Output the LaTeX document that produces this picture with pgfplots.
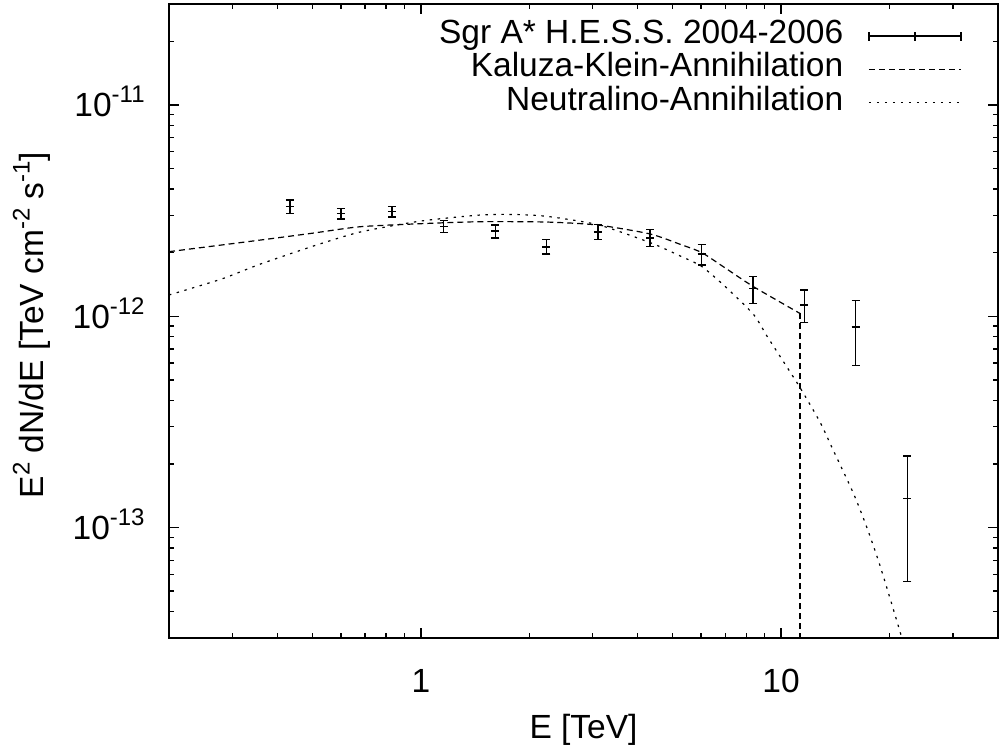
\documentclass[border=0pt]{standalone}
\usepackage{fontspec}
\setmainfont{Liberation Sans}
\usepackage{pgfplots}
\pgfplotsset{compat=1.18}
\newcommand{\chartfont}{\fontsize{16.75}{20}\selectfont}
\newcommand{\sups}[1]{\raisebox{0.42em}{\fontsize{12}{14}\selectfont #1}}

% H.E.S.S. Sgr A* spectrum 2004-2006: E, flux, upper and lower error
\pgfplotstableread{
E      F         up        dn
0.433  3.30e-12  0.25e-12  0.23e-12
0.600  3.07e-12  0.17e-12  0.19e-12
0.831  3.12e-12  0.18e-12  0.17e-12
1.158  2.66e-12  0.18e-12  0.17e-12
1.61   2.53e-12  0.17e-12  0.19e-12
2.23   2.13e-12  0.17e-12  0.16e-12
3.10   2.50e-12  0.21e-12  0.20e-12
4.33   2.34e-12  0.23e-12  0.20e-12
6.02   1.97e-12  0.22e-12  0.22e-12
8.36   1.35e-12  0.19e-12  0.20e-12
11.6   1.13e-12  0.20e-12  0.197e-12
16.1   0.889e-12 0.30e-12  0.303e-12
22.4   0.137e-12 0.081e-12 0.0815e-12
}\hessdata

% Kaluza-Klein annihilation spectrum
\pgfplotstableread{
E     F
0.2   2.02e-12
0.357 2.29e-12
0.5   2.47e-12
0.677 2.65e-12
1.0   2.74e-12
1.458 2.80e-12
2.23  2.79e-12
3.10  2.70e-12
4.33  2.45e-12
5.24  2.19e-12
6.02  2.00e-12
7.0   1.69e-12
8.38  1.38e-12
11.29 1.03e-12
}\kkdata

% Neutralino annihilation spectrum
\pgfplotstableread{
E     F
0.2   1.26e-12
0.28  1.50e-12
0.357 1.76e-12
0.5   2.14e-12
0.677 2.50e-12
1.0   2.82e-12
1.458 3.01e-12
1.8   3.03e-12
2.23  2.97e-12
3.10  2.71e-12
4.33  2.23e-12
5.24  1.93e-12
6.02  1.72e-12
7.0   1.38e-12
8.38  1.02e-12
9.13  0.807e-12
10.0  0.634e-12
11.29 0.459e-12
12.83 0.315e-12
13.83 0.240e-12
15.88 0.145e-12
17.3  0.100e-12
18.84 0.0656e-12
21.64 0.030e-12
23.0  0.020e-12
}\neudata

\begin{document}
\begin{tikzpicture}
\path[use as bounding box] (0,0) rectangle (499.5pt,-373.5pt);
\begin{axis}[
  at={(84.5pt,-2pt)}, anchor=north west,
  scale only axis, width=414.5pt, height=317pt,
  xmode=log, ymode=log,
  xmin=0.2, xmax=40, ymin=3e-14, ymax=3e-11,
  xtick={1,10}, xticklabels={1,10},
  minor xtick={0.2,0.3,0.4,0.5,0.6,0.7,0.8,0.9,2,3,4,5,6,7,8,9,20,30,40},
  ytick={1e-13,1e-12,1e-11},
  yticklabels={10\sups{-13},10\sups{-12},10\sups{-11}},
  minor ytick={3e-14,4e-14,5e-14,6e-14,7e-14,8e-14,9e-14,
               2e-13,3e-13,4e-13,5e-13,6e-13,7e-13,8e-13,9e-13,
               2e-12,3e-12,4e-12,5e-12,6e-12,7e-12,8e-12,9e-12,
               2e-11,3e-11},
  tick align=inside,
  major tick length=5pt, minor tick length=2.5pt,
  every tick/.style={black, line width=0.7pt},
  axis line style={line width=0.9pt},
  xticklabel style={font=\chartfont, anchor=base, inner sep=0pt, yshift=-27pt},
  yticklabel style={font=\chartfont, anchor=base east, inner sep=0pt, xshift=-12pt, yshift=-6pt},
  xlabel={E [TeV]},
  ylabel={E\sups{2} dN/dE [TeV cm\sups{-2} s\sups{-1}]},
  xlabel style={font=\chartfont, at={(axis description cs:0.5,0)}, anchor=base, inner sep=0pt, yshift=-50pt},
  ylabel style={font=\chartfont, at={(axis description cs:-0.1656,0.4937)}, anchor=center, inner sep=0pt},
  legend plot pos=right,
  legend cell align=right,
  legend style={font=\chartfont, draw=none, fill=none,
    at={(axis description cs:0.9566,0.9763)}, anchor=north east,
    inner sep=0pt, row sep=0pt, column sep=12.5pt,
    nodes={inner sep=0pt, text height=12pt, text depth=4.65pt}},
]
\addplot[black, line width=0.7pt, only marks, mark=+, mark size=2pt,
  error bars/.cd, y dir=both, y explicit,
  error mark=-,
  error bar style={line width=0.7pt},
  error mark options={rotate=90, mark size=2pt, line width=0.7pt},
  /pgfplots/legend image code/.code={
    \draw[black, line width=0.7pt] (0pt,0pt) -- (46pt,0pt);
    \draw[black, line width=0.7pt] (0pt,-2.2pt) -- (0pt,2.2pt)
      (46pt,-2.2pt) -- (46pt,2.2pt) (23pt,-2.2pt) -- (23pt,2.2pt);
  }]
  table[x=E, y=F, y error plus=up, y error minus=dn] {\hessdata};
\addlegendentry{Sgr A* H.E.S.S. 2004-2006}

\addplot[black, line width=0.6pt, dash pattern=on 3pt off 2pt, smooth, tension=0.4,
  legend image code/.code={\draw[black, line width=0.6pt, dash pattern=on 3pt off 2pt] (0pt,0pt) -- (46pt,0pt);}]
  table[x=E, y=F] {\kkdata};
\addlegendentry{Kaluza-Klein-Annihilation}

\addplot[black, line width=0.6pt, dash pattern=on 1.2pt off 2.8pt, smooth, tension=0.4,
  legend image code/.code={\draw[black, line width=0.6pt, dash pattern=on 1.2pt off 2.8pt] (0pt,0pt) -- (46pt,0pt);}]
  table[x=E, y=F] {\neudata};
\addlegendentry{Neutralino-Annihilation}

% cut-off of the Kaluza-Klein spectrum
\addplot[black, line width=0.6pt, dash pattern=on 3pt off 2pt, forget plot]
  coordinates {(11.29,1.03e-12) (11.29,1e-15)};
\end{axis}
\end{tikzpicture}
\end{document}
